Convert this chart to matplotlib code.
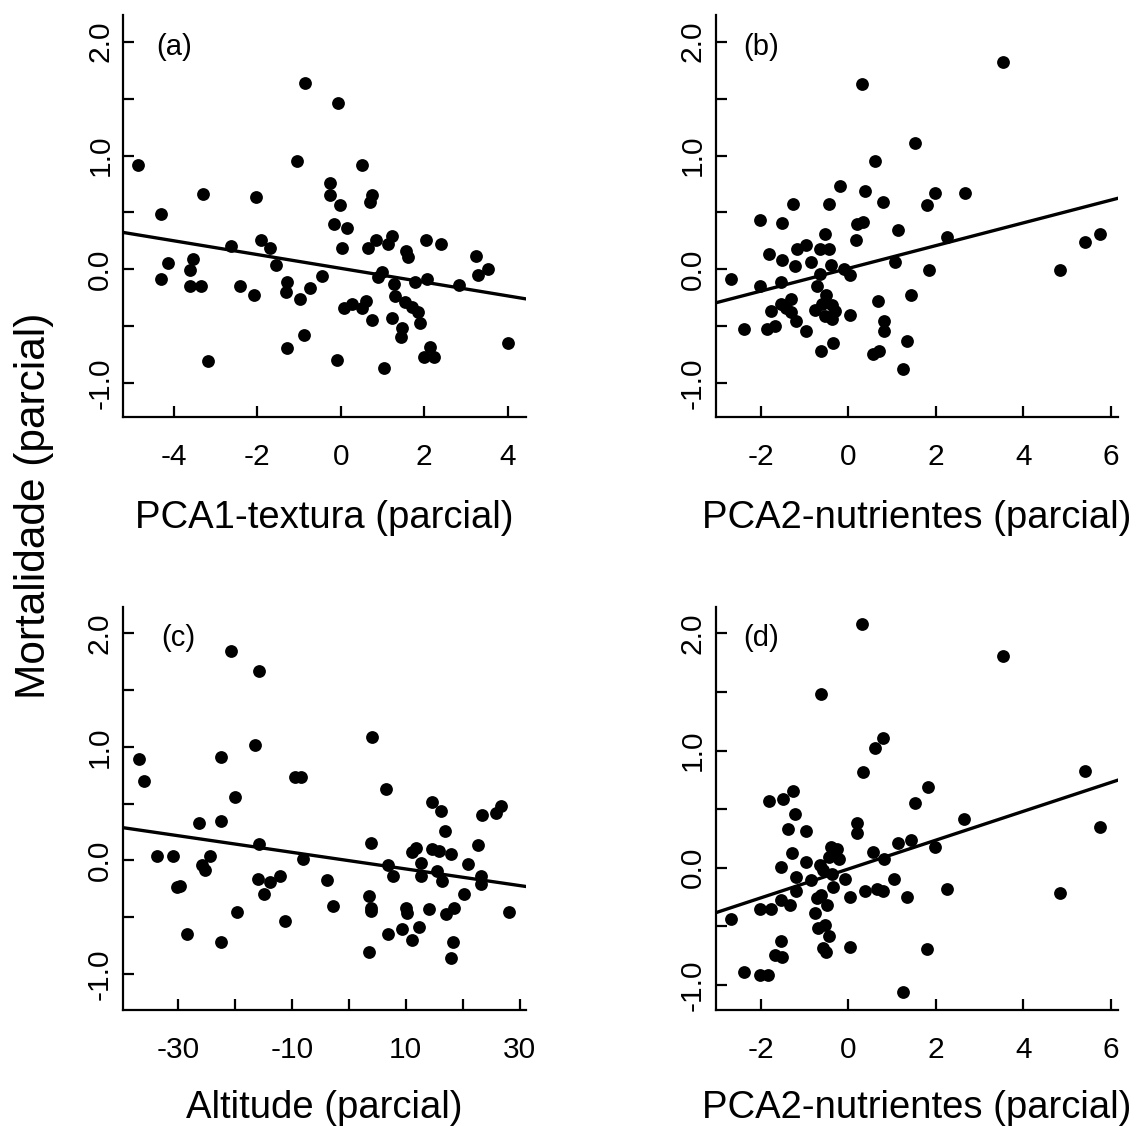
import matplotlib
matplotlib.use("Agg")
import matplotlib.pyplot as plt
import numpy as np

plt.rcParams["font.family"] = ["Liberation Sans", "DejaVu Sans"]
plt.rcParams["axes.unicode_minus"] = False

# (a) PCA1-textura
xA = [-4.86, -4.30, -4.15, -4.30, -3.53, -3.62, -3.61, -3.34, -3.29, -3.18,
      -2.62, -2.41, -2.08, -2.04, -1.90, -1.69, -1.56, -1.28, -1.32, -1.28,
      -0.98, -0.73, -0.89, -1.04, -0.85, -0.45, -0.06, -0.25, -0.25, -0.02,
      -0.16, 0.03, 0.16, -0.10, 0.08, 0.27, 0.50, 0.60, 0.50, 0.74,
      0.71, 0.65, 0.84, 0.75, 0.90, 0.99, 1.04, 1.14, 1.23, 1.27,
      1.30, 1.23, 1.47, 1.44, 1.53, 1.57, 1.62, 1.70, 1.77, 1.85,
      1.91, 2.04, 2.06, 2.00, 2.14, 2.23, 2.40, 2.83, 3.24, 3.28,
      3.54, 4.01]
yA = [0.914, 0.486, 0.060, -0.083, 0.089, -0.006, -0.149, -0.149, 0.663, -0.806,
      0.203, -0.149, -0.222, 0.632, 0.260, 0.187, 0.041, -0.111, -0.200, -0.695,
      -0.257, -0.165, -0.581, 0.952, 1.641, -0.057, 1.463, 0.759, 0.651, 0.562,
      0.397, 0.190, 0.365, -0.794, -0.343, -0.302, -0.343, -0.276, 0.921, 0.651,
      0.594, 0.190, 0.260, -0.444, -0.063, -0.022, -0.863, 0.222, 0.295, -0.127,
      -0.232, -0.429, -0.517, -0.594, -0.286, 0.159, 0.111, -0.333, -0.111, -0.375,
      -0.467, 0.260, -0.089, -0.768, -0.683, -0.771, 0.222, -0.137, 0.117, -0.048,
      0.006, -0.644]

# (b) PCA2-nutrientes
xB = [-2.68, -2.39, -2.03, -2.03, -1.87, -1.67, -1.81, -1.76, -1.53, -1.55,
      -1.51, -1.55, -1.43, -1.32, -1.32, -1.27, -1.22, -1.19, -1.18, -0.98,
      -0.96, -0.86, -0.77, -0.71, -0.66, -0.66, -0.62, -0.61, -0.54, -0.52,
      -0.54, -0.45, -0.44, -0.39, -0.37, -0.37, -0.31, -0.35, -0.20, -0.10,
      0.03, 0.03, 0.18, 0.19, 0.34, 0.30, 0.38, 0.57, 0.70, 0.61,
      0.68, 0.80, 0.82, 0.82, 1.06, 1.14, 1.24, 1.33, 1.44, 1.52,
      1.79, 1.84, 1.97, 2.25, 2.67, 3.54, 4.84, 5.40, 5.76]
yB = [-0.086, -0.524, 0.438, -0.149, -0.524, -0.502, 0.133, -0.365, 0.083, -0.111,
      0.403, -0.302, -0.340, -0.263, -0.375, 0.578, 0.029, -0.451, 0.175, -0.540,
      0.213, 0.063, -0.356, -0.149, 0.175, -0.038, -0.714, -0.302, 0.308, -0.222,
      -0.413, 0.175, 0.578, 0.041, -0.317, -0.438, -0.365, -0.644, 0.730, 0.000,
      -0.051, -0.403, 0.260, 0.397, 0.419, 1.629, 0.689, -0.740, -0.714, 0.952,
      -0.276, 0.594, -0.451, -0.540, 0.063, 0.349, -0.879, -0.629, -0.222, 1.111,
      0.562, -0.010, 0.667, 0.286, 0.667, 1.825, -0.010, 0.244, 0.308]

# (c) Altitude
xC = [-36.8, -36.0, -33.6, -30.8, -30.2, -29.7, -28.4, -26.3, -25.7, -25.3,
      -24.4, -22.4, -22.4, -22.4, -20.6, -20.0, -19.7, -16.4, -15.8, -15.8,
      -16.0, -14.8, -13.9, -12.1, -11.2, -9.5, -8.3, -8.0, -3.9, -2.8,
      3.6, 3.9, 3.9, 3.6, 3.9, 4.1, 6.6, 6.9, 7.7, 6.9,
      9.4, 10.1, 10.2, 11.1, 11.1, 11.8, 12.4, 12.7, 12.7, 14.0,
      14.6, 14.6, 15.4, 15.8, 16.2, 16.3, 16.8, 17.1, 17.9, 17.9,
      18.3, 18.5, 20.2, 21.0, 22.7, 23.2, 23.2, 23.4, 25.9, 26.7,
      28.1]
yC = [0.890, 0.695, 0.038, 0.038, -0.231, -0.224, -0.650, 0.327, -0.042, -0.086,
      0.038, 0.913, 0.346, -0.720, 1.848, 0.554, -0.455, 1.015, 1.671, 0.144,
      -0.167, -0.295, -0.192, -0.138, -0.538, 0.736, 0.736, 0.010, -0.170, -0.400,
      -0.311, -0.416, -0.448, -0.807, 0.150, 1.089, 0.631, -0.042, -0.138, -0.650,
      -0.608, -0.416, -0.464, -0.698, 0.070, 0.106, -0.592, -0.026, -0.134, -0.432,
      0.512, 0.096, -0.090, 0.080, 0.432, -0.186, 0.256, -0.471, 0.054, -0.865,
      -0.720, -0.416, -0.295, -0.032, 0.134, -0.138, -0.208, 0.400, 0.416, 0.480,
      -0.455]

# (d) PCA2-nutrientes
xD = [-2.68, -2.39, -2.03, -1.85, -2.03, -1.76, -1.81, -1.67, -1.53, -1.55,
      -1.55, -1.55, -1.50, -1.39, -1.34, -1.30, -1.27, -1.22, -1.19, -1.19,
      -0.98, -0.96, -0.86, -0.76, -0.71, -0.69, -0.66, -0.63, -0.62, -0.59,
      -0.59, -0.54, -0.52, -0.48, -0.45, -0.44, -0.38, -0.35, -0.39, -0.27,
      -0.21, -0.08, 0.03, 0.03, 0.19, 0.19, 0.30, 0.34, 0.38, 0.55,
      0.61, 0.66, 0.80, 0.80, 0.82, 1.05, 1.13, 1.24, 1.33, 1.43,
      1.52, 1.79, 1.83, 1.97, 2.25, 2.65, 3.54, 4.83, 5.40, 5.76]
yD = [-0.439, -0.893, -0.915, -0.915, -0.353, -0.353, 0.568, -0.740, -0.761, -0.623,
      0.006, -0.276, 0.589, 0.329, -0.316, 0.123, 0.651, 0.457, -0.077, -0.200,
      0.313, 0.046, -0.107, -0.384, -0.261, -0.516, 0.028, -0.230, 1.486, -0.018,
      -0.685, -0.485, -0.722, -0.316, 0.092, -0.586, -0.055, -0.163, 0.181, 0.160,
      0.077, -0.092, -0.249, -0.679, 0.384, 0.298, 2.079, 0.820, -0.200, 0.135,
      1.019, -0.178, 1.111, -0.200, 0.077, -0.092, 0.212, -1.062, -0.246, 0.236,
      0.550, -0.694, 0.688, 0.175, -0.178, 0.414, 1.808, -0.215, 0.826, 0.344]

# fitted lines (intercept, slope)
fitA = (0.009, -0.0605)
fitB = (0.009, 0.0999)
fitC = (-0.003, -0.00733)
fitD = (-0.010, 0.123)

panelLabels = ["(a)", "(b)", "(c)", "(d)"]
xLabels = ["PCA1-textura (parcial)", "PCA2-nutrientes (parcial)",
           "Altitude (parcial)", "PCA2-nutrientes (parcial)"]
yLabel = "Mortalidade (parcial)"

W, H = 1138, 1126
fig = plt.figure(figsize=(W / 100, H / 100), dpi=100)


def addPanel(rect, x, y, fit, xlim, ylim, xMajor, xMinor, label, xlabel, xlabelY):
    left, top, width, height = rect
    ax = fig.add_axes([left / W, 1 - (top + height) / H, width / W, height / H])
    ax.scatter(x, y, s=85, c="black", linewidths=0, zorder=3)
    ax.axline((0, fit[0]), slope=fit[1], color="black", lw=2.4, zorder=2)
    ax.set_xlim(*xlim)
    ax.set_ylim(*ylim)

    for side in ("top", "right"):
        ax.spines[side].set_visible(False)
    for side in ("left", "bottom"):
        ax.spines[side].set_linewidth(1.6)

    ax.set_xticks(xMajor)
    ax.set_xticklabels([f"{v:g}" for v in xMajor])
    ax.set_xticks(xMinor, minor=True)
    ax.set_yticks([-1, 0, 1, 2])
    ax.set_yticklabels(["-1.0", "0.0", "1.0", "2.0"], rotation=90, va="center")
    ax.set_yticks([-0.5, 0.5, 1.5], minor=True)
    ax.tick_params(which="both", direction="in", length=7.7, width=1.6, labelsize=21.5)
    ax.tick_params(axis="x", which="both", pad=18.5)
    ax.tick_params(axis="y", which="both", pad=6.5)

    ax.annotate(label, (xMajor[0], 2.0), xytext=(0, -3.5), textcoords="offset points",
                ha="center", va="center", fontsize=21)
    ax.set_xlabel(xlabel, fontsize=27.5, va="baseline")
    ax.xaxis.set_label_coords(0.5, xlabelY)
    return ax


addPanel((123.3, 15, 402.7, 402.3), xA, yA, fitA, (-5.21, 4.44), (-1.30, 2.235),
         [-4, -2, 0, 2, 4], [], panelLabels[0], xLabels[0], -0.276)
addPanel((715.5, 15, 402.8, 402.3), xB, yB, fitB, (-3.04, 6.17), (-1.30, 2.235),
         [-2, 0, 2, 4, 6], [], panelLabels[1], xLabels[1], -0.276)
addPanel((122.7, 607.3, 403.3, 402.7), xC, yC, fitC, (-39.67, 31.09), (-1.319, 2.229),
         [-30, -10, 10, 30], [-20, 0, 20], panelLabels[2], xLabels[2], -0.269)
addPanel((715.5, 607.3, 402.8, 402.7), xD, yD, fitD, (-3.04, 6.17), (-1.213, 2.222),
         [-2, 0, 2, 4, 6], [], panelLabels[3], xLabels[3], -0.269)

fig.text(34 / W, 1 - 505.5 / H, yLabel, rotation=90, ha="center", va="center", fontsize=30.5)

fig.savefig("out.png", dpi=100)
